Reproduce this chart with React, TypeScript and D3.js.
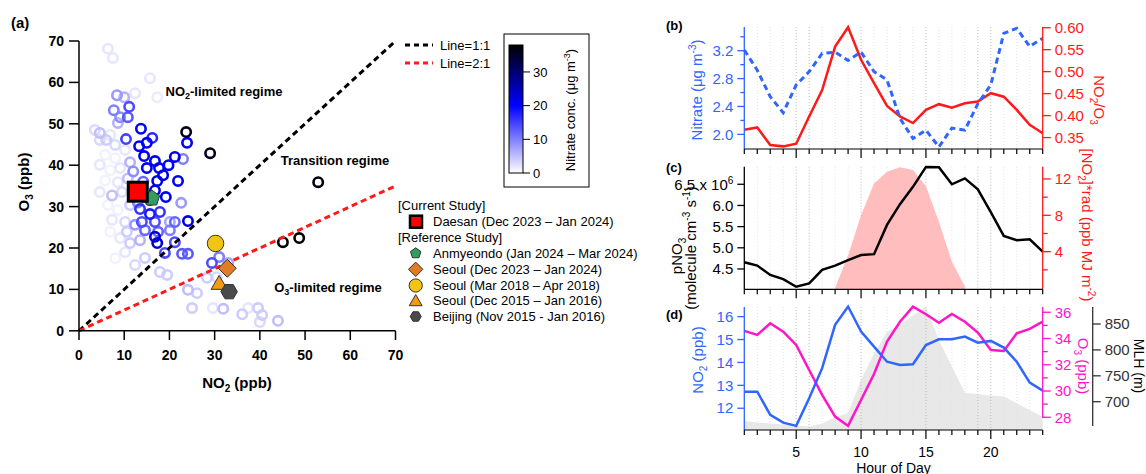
import React from 'react';
import * as d3 from 'd3';

const FONT = "'Liberation Sans', Arial, Helvetica, sans-serif";

// ---------- Panel (a) data ----------
const scNO2 = [6.4,7.5,15.7,12.4,17.3,8.4,10.0,7.7,11.1,9.1,10.8,8.6,4.6,6.0,10.4,13.7,13.3,15.0,16.2,23.7,23.9,29.0,14.4,16.8,17.7,15.0,21.2,23.0,17.3,21.9,19.2,22.6,24.1,13.5,52.9,15.7,17.9,13.9,16.8,20.1,21.2,14.6,17.5,20.1,16.8,17.3,21.2,19.0,22.8,24.1,45.1,48.7,29.4,31.0,33.0,10.6,11.3,14.6,17.9,19.5,24.1,26.1,28.3,30.5,25.0,29.6,31.9,36.1,37.4,39.6,40.5,40.0,44.0,3.5,4.6,6.9,8.0,5.8,8.0,10.2,4.6,6.9,9.1,11.3,5.8,8.6,10.8,4.6,7.3,9.5,11.9,6.4,8.6,11.3,7.3,10.2,12.4,6.9,9.1,13.5,10.2,12.4,8.0,13.5,15.7,16.8,18.6,14.2,12.0,19.8,13.0];
const scO3 = [68.1,65.9,61.0,57.4,56.4,56.9,56.4,53.3,54.1,51.6,51.6,50.2,47.8,46.1,46.3,48.8,44.6,45.4,46.6,48.0,45.4,42.9,42.2,41.0,39.3,39.3,42.0,41.5,36.2,36.2,32.3,30.9,26.5,29.4,35.9,28.2,28.7,26.3,26.3,26.3,26.3,24.3,23.9,24.3,22.7,21.2,21.4,18.8,18.6,18.6,21.4,22.4,16.4,17.8,16.4,23.9,21.2,17.6,14.2,13.5,9.9,9.1,12.8,13.0,5.5,5.5,5.3,4.0,5.5,5.5,3.8,2.1,2.4,48.5,46.1,47.3,44.9,42.5,41.7,43.7,40.1,38.8,39.3,40.7,36.3,35.9,36.8,33.5,32.7,33.5,33.9,30.4,29.2,30.4,26.8,26.3,25.6,23.9,22.4,21.9,19.0,15.9,17.5,33.9,31.6,33.9,37.6,36.0,38.5,40.0,31.0];
const scNitrate = [2,2,2,2,1.5,8,6,10,14,9,13,6,5,4,15,20,20,20,17,36,20,36,21,21,21,20,22,10,21,21,21,8,22,16,37,18,16,14,14,7,12,12,12,10,23,23,14,14,13,13,38,38,14,10,7,4,4,4,4,4,5,4,4,3,4,2,5,4,2,4,4,3,5,3,3,2,3,1,1,2,2,1,2,6,1,2,5,2,5,3,8,1,1,4,2,3,8,1,2,6,2,3,1,20,18,22,22,12,9,20,10];

const refNames = ['Anmyeondo (Jan 2024 \u2013 Mar 2024)','Seoul (Dec 2023 \u2013 Jan 2024)','Seoul (Mar 2018 \u2013 Apr 2018)','Seoul (Dec 2015 \u2013 Jan 2016)','Beijing (Nov 2015 - Jan 2016)'];
const refNO2 = [16.1, 32.8, 30.2, 31.0, 33.2];
const refO3 = [32.0, 15.1, 21.1, 11.5, 9.45];
const refColors = ['#2f9e5f', '#e07b26', '#f2c416', '#f39a12', '#4a4a4a'];
const refShapes = ['pentagon', 'diamond', 'circle', 'triangle', 'hexagon'];
const currentName = 'Daesan (Dec 2023 \u2013 Jan 2024)';
const currentNO2 = 13.0;
const currentO3 = 33.6;

const axisTicksA = [0,10,20,30,40,50,60,70];
const cbTicks = [0,10,20,30];

// ---------- Diurnal data ----------
const hours = [1,2,3,4,5,6,7,8,9,10,11,12,13,14,15,16,17,18,19,20,21,22,23,24];
const nitrate = [3.21,2.92,2.54,2.31,2.71,2.90,3.16,3.18,3.06,3.18,2.90,2.78,2.23,1.94,2.06,1.82,2.09,2.06,2.44,2.71,3.45,3.52,3.26,3.38];
const no2o3 = [0.368,0.373,0.333,0.330,0.336,0.398,0.458,0.557,0.601,0.527,0.474,0.422,0.398,0.383,0.413,0.426,0.418,0.428,0.432,0.451,0.443,0.413,0.379,0.360];
const pno3 = [4.66,4.58,4.36,4.26,4.08,4.16,4.48,4.58,4.71,4.83,4.85,5.54,6.03,6.44,6.91,6.90,6.50,6.64,6.38,5.84,5.28,5.18,5.20,4.91];
const radHours = [8,9,10,11,12,13,14,15,16,17,18];
const no2rad = [0,3.6,8.0,11.5,12.8,13.3,13.0,11.2,7.3,2.9,0.2];
const no2 = [12.72,12.72,11.71,11.37,11.23,12.44,13.75,15.64,16.44,15.35,14.69,14.03,13.89,13.92,14.76,15.01,15.01,15.13,14.86,14.94,14.65,14.03,13.12,12.77];
const o3 = [34.58,34.27,35.16,34.52,33.51,31.6,29.7,28.05,27.34,29.32,31.3,33.76,35.28,36.43,35.85,35.2,35.87,35.28,34.45,33.13,33.05,34.4,34.73,35.28];
const mlh = [663,660,658,656,654,652,658,670,678,742,793,835,848,867,883,819,768,717,715,712,710,697,684,671];

const nitrateTicks = [2.0,2.4,2.8,3.2];
const nitrateMinor = [2.2,2.6,3.0,3.4];
const ratioTicks = [0.35,0.40,0.45,0.50,0.55,0.60];
const pno3Ticks = [4.5,5.0,5.5,6.0,6.5];
const radTicks = [4,8,12];
const radMinor = [2,6,10];
const no2Ticks = [12,13,14,15,16];
const o3Ticks = [28,30,32,34,36];
const o3Minor = [29,31,33,35];
const mlhTicks = [700,750,800,850];
const hourLabels = [5,10,15,20];

const BLUE = '#2f66ff';
const RED = '#ff1a1a';
const MAG = '#ff14c8';

function polygon(cx: number, cy: number, r: number, n: number, rot: number) {
  const pts: string[] = [];
  for (let i = 0; i < n; i++) {
    const a = rot + (i * 2 * Math.PI) / n;
    pts.push(`${cx + r * Math.cos(a)},${cy + r * Math.sin(a)}`);
  }
  return pts.join(' ');
}

function Marker({ shape, cx, cy, color, s }: any) {
  const stroke = '#333';
  if (shape === 'circle') return <circle cx={cx} cy={cy} r={s * 0.55} fill={color} stroke={stroke} strokeWidth={1} />;
  if (shape === 'pentagon') return <polygon points={polygon(cx, cy, s * 0.55, 5, -Math.PI / 2)} fill={color} stroke={stroke} strokeWidth={1} />;
  if (shape === 'hexagon') return <polygon points={polygon(cx, cy, s * 0.55, 6, 0)} fill={color} stroke={stroke} strokeWidth={1} />;
  if (shape === 'diamond') return <polygon points={polygon(cx, cy, s * 0.6, 4, 0)} fill={color} stroke={stroke} strokeWidth={1} />;
  if (shape === 'triangle') return <polygon points={polygon(cx, cy + s * 0.1, s * 0.62, 3, -Math.PI / 2)} fill={color} stroke={stroke} strokeWidth={1} />;
  return null;
}

function HourAxis({ xs, y }: any) {
  return (
    <g>
      <line x1={xs(1)} x2={xs(24)} y1={y} y2={y} stroke="#000" strokeWidth={1.2} />
      {hours.map((h) => (
        <line key={h} x1={xs(h)} x2={xs(h)} y1={y} y2={y + (h % 5 === 0 ? 9 : 5)} stroke="#000" strokeWidth={1.2} />
      ))}
    </g>
  );
}

function Grid({ xs, y1, y2 }: any) {
  return (
    <g>
      {hours.slice(1, 23).map((h) => (
        <line key={h} x1={xs(h)} x2={xs(h)} y1={y1} y2={y2} stroke={h % 5 === 0 || h === 6 || h === 19 ? '#bdbdbd' : '#e2e2e2'} strokeWidth={1} strokeDasharray="1 2" />
      ))}
    </g>
  );
}

function VAxis({ scale, x, ticks, minor = [], side, color, y1, y2, len = 7, mlen = 4, fmt, fs = 15 }: any) {
  const dir = side === 'left' ? -1 : 1;
  return (
    <g>
      <line x1={x} x2={x} y1={y1} y2={y2} stroke={color} strokeWidth={1.3} />
      {ticks.map((t: number) => (
        <g key={'t' + t}>
          <line x1={x} x2={x + dir * len} y1={scale(t)} y2={scale(t)} stroke={color} strokeWidth={1.3} />
          <text x={x + dir * (len + 4)} y={scale(t)} dy="0.35em" fontSize={fs} fill={color} textAnchor={side === 'left' ? 'end' : 'start'} fontFamily={FONT}>
            {fmt ? fmt(t) : t}
          </text>
        </g>
      ))}
      {minor.map((t: number) => (
        <line key={'m' + t} x1={x} x2={x + dir * mlen} y1={scale(t)} y2={scale(t)} stroke={color} strokeWidth={1.3} />
      ))}
    </g>
  );
}

export default function App() {
  // Panel (a)
  const xA = d3.scaleLinear().domain([0, 70]).range([79, 395.5]);
  const yA = d3.scaleLinear().domain([0, 70]).range([330.8, 41]);
  const cScale = d3.scaleLinear<string>().domain([0, 20, 38]).range(['#ffffff', '#0000ff', '#000000']);
  const cbY = d3.scaleLinear().domain([0, 38]).range([173, 45]);
  const lineA = d3.line<number[]>().x((d) => xA(d[0])).y((d) => yA(d[1]));

  const pts = scNO2.map((v, i) => ({ x: v, y: scO3[i], n: scNitrate[i] })).sort((a, b) => a.n - b.n);

  // right panels
  const xs = d3.scaleLinear().domain([1, 24]).range([744.3, 1042.7]);
  const yB = d3.scaleLinear().domain([1.79, 3.54]).range([149, 27]);
  const yB2 = d3.scaleLinear().domain([0.324, 0.6]).range([149, 27.7]);
  const yC = d3.scaleLinear().domain([4.02, 6.915]).range([289.3, 166.7]);
  const yC2 = d3.scaleLinear().domain([-0.14, 13.35]).range([289.3, 166.7]);
  const yD = d3.scaleLinear().domain([11.05, 16.42]).range([430, 307]);
  const yD2 = d3.scaleLinear().domain([27.03, 36.4]).range([430, 307]);
  const yD3 = d3.scaleLinear().domain([645.4, 882.8]).range([430, 307]);

  const lineB = d3.line<number>().x((_, i) => xs(hours[i])).y((d) => yB(d));
  const lineB2 = d3.line<number>().x((_, i) => xs(hours[i])).y((d) => yB2(d));
  const lineC = d3.line<number>().x((_, i) => xs(hours[i])).y((d) => yC(d));
  const areaC = d3.area<number>().x((_, i) => xs(radHours[i])).y0(yC2(-0.14)).y1((d) => yC2(d));
  const lineD = d3.line<number>().x((_, i) => xs(hours[i])).y((d) => yD(d));
  const lineD2 = d3.line<number>().x((_, i) => xs(hours[i])).y((d) => yD2(d));
  const areaD = d3.area<number>().x((_, i) => xs(hours[i])).y0(yD3(645.4)).y1((d) => yD3(d));

  const legendRows = [221.7, 253.3, 269.3, 285.5, 300.8, 316.5];

  return (
    <svg width={1146} height={474} style={{ position: 'absolute', left: 0, top: 0, background: '#fff' }} fontFamily={FONT}>
      <rect x={0} y={0} width={1146} height={474} fill="#fff" />
      {/* ================= Panel (a) ================= */}
      <text x={11} y={28} fontSize={15} fontWeight="bold">(a)</text>
      {pts.map((p, i) => (
        <circle key={i} cx={xA(p.x)} cy={yA(p.y)} r={4.7} fill="none" stroke={cScale(p.n)} strokeWidth={2.6} />
      ))}
      <path d={lineA([[0, 0], [70, 70]]) || ''} stroke="#000" strokeWidth={3} strokeDasharray="6 4" fill="none" />
      <path d={lineA([[0, 0], [70, 35]]) || ''} stroke="#ff1a1a" strokeWidth={3} strokeDasharray="6 4" fill="none" />
      {/* reference markers */}
      {refNames.map((n, i) => (
        <Marker key={n} shape={refShapes[i]} cx={xA(refNO2[i])} cy={yA(refO3[i])} color={refColors[i]} s={15} />
      ))}
      <rect x={xA(currentNO2) - 9.5} y={yA(currentO3) - 9.5} width={19} height={19} fill="#ff0000" stroke="#000" strokeWidth={3} />
      {/* axes */}
      <line x1={79} x2={79} y1={41} y2={330.8} stroke="#000" strokeWidth={1.5} />
      <line x1={79} x2={395.5} y1={330.8} y2={330.8} stroke="#000" strokeWidth={1.5} />
      {axisTicksA.map((t) => (
        <g key={'ay' + t}>
          <line x1={69} x2={79} y1={yA(t)} y2={yA(t)} stroke="#000" strokeWidth={1.5} />
          <text x={64} y={yA(t)} dy="0.36em" textAnchor="end" fontSize={14} fontWeight="bold">{t}</text>
          <line x1={xA(t)} x2={xA(t)} y1={330.8} y2={340} stroke="#000" strokeWidth={1.5} />
          <text x={xA(t)} y={360} textAnchor="middle" fontSize={14} fontWeight="bold">{t}</text>
        </g>
      ))}
      <text x={237} y={388} textAnchor="middle" fontSize={15} fontWeight="bold">
        NO<tspan fontSize={10} dy={4}>2</tspan><tspan dy={-4}> (ppb)</tspan>
      </text>
      <text transform="translate(29,182) rotate(-90)" textAnchor="middle" fontSize={15} fontWeight="bold">
        O<tspan fontSize={10} dy={4}>3</tspan><tspan dy={-4}> (ppb)</tspan>
      </text>
      <text x={224} y={96} textAnchor="middle" fontSize={13} fontWeight="bold">
        NO<tspan fontSize={9} dy={3}>2</tspan><tspan dy={-3}>-limited regime</tspan>
      </text>
      <text x={335} y={165} textAnchor="middle" fontSize={13} fontWeight="bold">Transition regime</text>
      <text x={328} y={292} textAnchor="middle" fontSize={13} fontWeight="bold">
        O<tspan fontSize={9} dy={3}>3</tspan><tspan dy={-3}>-limited regime</tspan>
      </text>
      {/* line legend */}
      <line x1={405} x2={433} y1={45} y2={45} stroke="#000" strokeWidth={3} strokeDasharray="5 4" />
      <text x={440} y={49.5} fontSize={13}>Line=1:1</text>
      <line x1={405} x2={433} y1={63} y2={63} stroke="#ff1a1a" strokeWidth={3} strokeDasharray="5 4" />
      <text x={440} y={67.5} fontSize={13}>Line=2:1</text>
      {/* colorbar */}
      <defs>
        <linearGradient id="cb" x1="0" y1="1" x2="0" y2="0">
          <stop offset="0" stopColor={cScale(0)} />
          <stop offset={20 / 38} stopColor={cScale(20)} />
          <stop offset="1" stopColor={cScale(38)} />
        </linearGradient>
      </defs>
      <rect x={504} y={34} width={85} height={153} fill="#fff" stroke="#000" strokeWidth={1} />
      <rect x={509} y={cbY(38)} width={14} height={cbY(0) - cbY(38)} fill="url(#cb)" stroke="#000" strokeWidth={1} />
      {cbTicks.map((t) => (
        <g key={'cb' + t}>
          <line x1={523} x2={530} y1={cbY(t)} y2={cbY(t)} stroke="#000" strokeWidth={1} />
          <text x={533} y={cbY(t)} dy="0.36em" fontSize={13}>{t}</text>
        </g>
      ))}
      <text transform="translate(575,110) rotate(-90)" textAnchor="middle" fontSize={13}>
        Nitrate conc. (μg m<tspan fontSize={9} dy={-5}>-3</tspan><tspan dy={5}>)</tspan>
      </text>
      {/* study legend */}
      <text x={398} y={209.5} fontSize={13}>[Current Study]</text>
      <rect x={410} y={legendRows[0] - 6} width={12} height={12} fill="#ff0000" stroke="#000" strokeWidth={2.5} />
      <text x={433} y={legendRows[0] + 4.5} fontSize={13}>{currentName}</text>
      <text x={398} y={241.5} fontSize={13}>[Reference Study]</text>
      {refNames.map((n, i) => (
        <g key={'lg' + n}>
          <Marker shape={refShapes[i]} cx={415.7} cy={legendRows[i + 1]} color={refColors[i]} s={i === 0 ? 10 : i === 4 ? 10 : 12} />
          <text x={433} y={legendRows[i + 1] + 4.5} fontSize={13}>{n}</text>
        </g>
      ))}

      {/* ================= Panel (b) ================= */}
      <Grid xs={xs} y1={27} y2={149} />
      <path d={lineB2(no2o3) || ''} stroke={RED} strokeWidth={2.5} fill="none" />
      <path d={lineB(nitrate) || ''} stroke={BLUE} strokeWidth={3} strokeDasharray="6 4" fill="none" />
      <VAxis scale={yB} x={744.3} ticks={nitrateTicks} minor={nitrateMinor} side="left" color={BLUE} y1={27} y2={149} fmt={(t: number) => t.toFixed(1)} />
      <VAxis scale={yB2} x={1042.7} ticks={ratioTicks} side="right" color={RED} y1={27} y2={149} len={8} fmt={(t: number) => t.toFixed(2)} />
      <HourAxis xs={xs} y={149} />
      <text x={666} y={30} fontSize={13} fontWeight="bold">(b)</text>
      <text transform="translate(702,90) rotate(-90)" textAnchor="middle" fontSize={15} fill={BLUE}>
        Nitrate (μg m<tspan fontSize={10} dy={-6}>-3</tspan><tspan dy={6}>)</tspan>
      </text>
      <text transform="translate(1094,100) rotate(90)" textAnchor="middle" fontSize={15} fill={RED}>
        NO<tspan fontSize={10} dy={4}>2</tspan><tspan dy={-4}>/O</tspan><tspan fontSize={10} dy={4}>3</tspan>
      </text>

      {/* ================= Panel (c) ================= */}
      <Grid xs={xs} y1={166.7} y2={289.3} />
      <path d={areaC(no2rad) || ''} fill="#ffbdbd" stroke="none" />
      <path d={lineC(pno3) || ''} stroke="#000" strokeWidth={2.5} fill="none" />
      <VAxis scale={yC} x={744.3} ticks={pno3Ticks} side="left" color="#000" y1={166.7} y2={289.3}
        fmt={(t: number) => (t === 6.5 ? <>6.5 x 10<tspan fontSize={10} dy={-6}>6</tspan></> : t.toFixed(1))} />
      <VAxis scale={yC2} x={1042.7} ticks={radTicks} minor={radMinor} side="right" color={RED} y1={166.7} y2={289.3} len={8} mlen={5} />
      <HourAxis xs={xs} y={289.3} />
      <text x={666} y={172} fontSize={13} fontWeight="bold">(c)</text>
      <text transform="translate(682,256) rotate(-90)" textAnchor="middle" fontSize={15}>
        pNO<tspan fontSize={10} dy={4}>3</tspan>
      </text>
      <text transform="translate(696,248) rotate(-90)" textAnchor="middle" fontSize={15}>
        (molecule cm<tspan fontSize={10} dy={-6}>-3</tspan><tspan dy={6}> s</tspan><tspan fontSize={10} dy={-6}>-1</tspan><tspan dy={6}>)</tspan>
      </text>
      <text transform="translate(1082,225) rotate(90)" textAnchor="middle" fontSize={15} fill={RED}>
        [NO<tspan fontSize={10} dy={4}>2</tspan><tspan dy={-4}>]*rad (ppb MJ m</tspan><tspan fontSize={10} dy={-6}>-2</tspan><tspan dy={6}>)</tspan>
      </text>

      {/* ================= Panel (d) ================= */}
      <path d={areaD(mlh) || ''} fill="#e8e8e8" stroke="none" />
      <Grid xs={xs} y1={307} y2={430} />
      <path d={lineD2(o3) || ''} stroke={MAG} strokeWidth={2.5} fill="none" />
      <path d={lineD(no2) || ''} stroke={BLUE} strokeWidth={2.5} fill="none" />
      <VAxis scale={yD} x={744.3} ticks={no2Ticks} side="left" color={BLUE} y1={307} y2={430} />
      <VAxis scale={yD2} x={1042.7} ticks={o3Ticks} minor={o3Minor} side="right" color={MAG} y1={307} y2={418} len={8} mlen={5} />
      <VAxis scale={yD3} x={1092.7} ticks={mlhTicks} side="right" color="#333" y1={307} y2={426} len={8} />
      <HourAxis xs={xs} y={430} />
      {hourLabels.map((h) => (
        <text key={'hl' + h} x={xs(h)} y={456.5} textAnchor="middle" fontSize={14}>{h}</text>
      ))}
      <text x={893.5} y={472.5} textAnchor="middle" fontSize={14}>Hour of Day</text>
      <text x={666} y={319} fontSize={13} fontWeight="bold">(d)</text>
      <text transform="translate(703,360) rotate(-90)" textAnchor="middle" fontSize={15} fill={BLUE}>
        NO<tspan fontSize={10} dy={4}>2</tspan><tspan dy={-4}> (ppb)</tspan>
      </text>
      <text transform="translate(1078,366) rotate(90)" textAnchor="middle" fontSize={15} fill={MAG}>
        O<tspan fontSize={10} dy={4}>3</tspan><tspan dy={-4}> (ppb)</tspan>
      </text>
      <text transform="translate(1134,366) rotate(90)" textAnchor="middle" fontSize={14} fill="#000">MLH (m)</text>
    </svg>
  );
}
